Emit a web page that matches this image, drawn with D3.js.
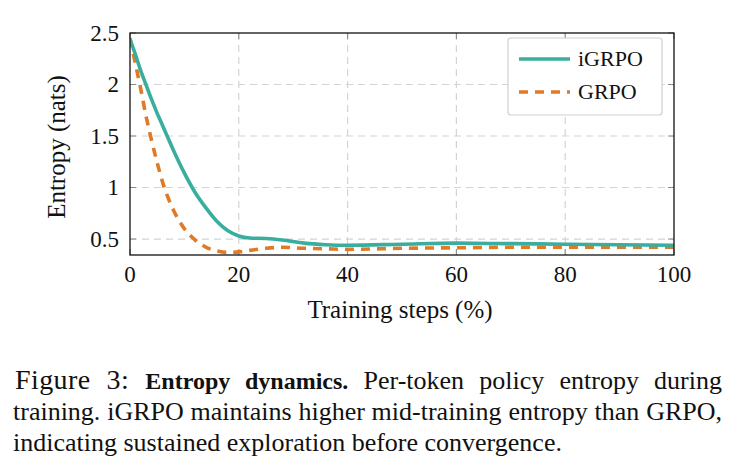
<!DOCTYPE html>
<html>
<head>
<meta charset="utf-8">
<script src="https://cdn.jsdelivr.net/npm/d3@7"></script>
<style>
	body { margin: 0; background: #fff; }
	svg { display: block; }
	text { font-family: "Liberation Serif", "DejaVu Serif", serif; fill: #111; }
</style>
</head>
<body>
<div class="c-svg"></div>
<script>
//DATA
//-------------------------------------------------------------------------
const steps = [0, 1, 2, 3, 4, 5, 6, 8, 10, 12, 14, 16, 18, 20, 22, 25, 28, 32, 36, 40, 50, 60, 70, 80, 90, 100];
const igrpo = [2.44, 2.29, 2.13, 1.99, 1.85, 1.72, 1.6, 1.36, 1.14, 0.95, 0.8, 0.67, 0.58, 0.53, 0.51, 0.505, 0.49, 0.46, 0.445, 0.44, 0.45, 0.46, 0.455, 0.45, 0.445, 0.44];
const grpo = [2.45, 2.2, 1.95, 1.68, 1.45, 1.24, 1.05, 0.78, 0.6, 0.49, 0.42, 0.385, 0.37, 0.375, 0.39, 0.41, 0.42, 0.41, 0.405, 0.4, 0.41, 0.415, 0.42, 0.42, 0.42, 0.42];
const seriesNames = ["iGRPO", "GRPO"];
const xTicks = [0, 20, 40, 60, 80, 100];
const yTicks = [0.5, 1, 1.5, 2, 2.5];
const yTickLabels = ["0.5", "1", "1.5", "2", "2.5"];
const captionLines = [
	"training. iGRPO maintains higher mid-training entropy than GRPO,",
	"indicating sustained exploration before convergence."
];

//opts
const opts = {
	width: 741,
	height: 466,
	plot: { left: 130, right: 674, top: 33, bottom: 255 }
};
const colors = { igrpo: "#3aae9e", grpo: "#e07a27" };

const svg = d3.select(".c-svg")
	.append("svg")
	.attr("width", opts.width)
	.attr("height", opts.height);

svg.append("rect").attr("width", opts.width).attr("height", opts.height).attr("fill", "#fff");

//scales
const x = d3.scaleLinear().domain([0, 100]).range([opts.plot.left, opts.plot.right]);
const y = d3.scaleLinear().domain([0.345, 2.5]).range([opts.plot.bottom, opts.plot.top]);

//GRID
//-------------------------------------------------------------------------
const grid = svg.append("g").attr("class", "grid");
grid.selectAll(".vgrid")
	.data(xTicks.slice(1, -1))
	.join("line")
	.attr("x1", d => x(d)).attr("x2", d => x(d))
	.attr("y1", opts.plot.top).attr("y2", opts.plot.bottom)
	.style("stroke", "#d4d4d4").style("stroke-width", 1.2)
	.style("stroke-dasharray", "7,5");
grid.selectAll(".hgrid")
	.data(yTicks.slice(0, -1))
	.join("line")
	.attr("x1", opts.plot.left).attr("x2", opts.plot.right)
	.attr("y1", d => y(d)).attr("y2", d => y(d))
	.style("stroke", "#d4d4d4").style("stroke-width", 1.2)
	.style("stroke-dasharray", "7,5");

//inner ticks
const ticks = svg.append("g").attr("class", "ticks");
yTicks.forEach(v => {
	ticks.append("line").attr("x1", opts.plot.left).attr("x2", opts.plot.left + 6)
		.attr("y1", y(v)).attr("y2", y(v)).style("stroke", "#888").style("stroke-width", 1);
	ticks.append("line").attr("x1", opts.plot.right - 6).attr("x2", opts.plot.right)
		.attr("y1", y(v)).attr("y2", y(v)).style("stroke", "#888").style("stroke-width", 1);
});
xTicks.forEach(v => {
	ticks.append("line").attr("x1", x(v)).attr("x2", x(v))
		.attr("y1", opts.plot.bottom).attr("y2", opts.plot.bottom - 6).style("stroke", "#888").style("stroke-width", 1);
	ticks.append("line").attr("x1", x(v)).attr("x2", x(v))
		.attr("y1", opts.plot.top).attr("y2", opts.plot.top + 6).style("stroke", "#888").style("stroke-width", 1);
});

//LINES
//-------------------------------------------------------------------------
svg.append("clipPath").attr("id", "clip")
	.append("rect")
	.attr("x", opts.plot.left).attr("y", opts.plot.top - 4)
	.attr("width", opts.plot.right - opts.plot.left).attr("height", opts.plot.bottom - opts.plot.top + 4);

const line = d3.line()
	.x(d => x(d[0]))
	.y(d => y(d[1]))
	.curve(d3.curveMonotoneX);

const lines = svg.append("g").attr("clip-path", "url(#clip)");
lines.append("path")
	.datum(steps.map((s, i) => [s, grpo[i]]))
	.attr("d", line)
	.style("fill", "none")
	.style("stroke", colors.grpo)
	.style("stroke-width", 3.6)
	.style("stroke-dasharray", "9,7");
lines.append("path")
	.datum(steps.map((s, i) => [s, igrpo[i]]))
	.attr("d", line)
	.style("fill", "none")
	.style("stroke", colors.igrpo)
	.style("stroke-width", 3.6);

//frame
svg.append("rect")
	.attr("x", opts.plot.left).attr("y", opts.plot.top)
	.attr("width", opts.plot.right - opts.plot.left)
	.attr("height", opts.plot.bottom - opts.plot.top)
	.style("fill", "none").style("stroke", "#111").style("stroke-width", 1.3);

//AXES LABELS
//-------------------------------------------------------------------------
svg.selectAll(".xlab")
	.data(xTicks)
	.join("text")
	.attr("x", d => x(d)).attr("y", 282)
	.attr("text-anchor", "middle")
	.style("font-size", "23px")
	.text(d => d);

svg.selectAll(".ylab")
	.data(yTicks)
	.join("text")
	.attr("x", 119).attr("y", d => y(d) + 7.5)
	.attr("text-anchor", "end")
	.style("font-size", "23px")
	.text((d, i) => yTickLabels[i]);

svg.append("text")
	.attr("transform", "translate(65 147) rotate(-90)")
	.attr("text-anchor", "middle")
	.style("font-size", "25px")
	.text("Entropy (nats)");

svg.append("text")
	.attr("x", 400).attr("y", 318)
	.attr("text-anchor", "middle")
	.style("font-size", "25px")
	.text("Training steps (%)");

//LEGEND
//-------------------------------------------------------------------------
const legend = svg.append("g");
legend.append("rect")
	.attr("x", 508).attr("y", 38).attr("width", 154).attr("height", 77)
	.attr("rx", 3)
	.style("fill", "#fff").style("stroke", "#cfcfcf").style("stroke-width", 1.2);
[{ name: seriesNames[0], c: colors.igrpo, dash: null, yy: 59 },
 { name: seriesNames[1], c: colors.grpo, dash: "9,7", yy: 92 }].forEach(it => {
	legend.append("line")
		.attr("x1", 519).attr("x2", 570).attr("y1", it.yy).attr("y2", it.yy)
		.style("stroke", it.c).style("stroke-width", 3.6)
		.style("stroke-dasharray", it.dash);
	legend.append("text")
		.attr("x", 578).attr("y", it.yy + 7)
		.style("font-size", "22px")
		.text(it.name);
});

//CAPTION
//-------------------------------------------------------------------------
//justify a text line by spreading word spacing
function justify(t, width){
	const len = t.node().getComputedTextLength();
	const spaces = (t.text().match(/ /g) || []).length;
	if (spaces > 0 && len < width) t.style("word-spacing", ((width - len) / spaces) + "px");
}

const cap = svg.append("text")
	.attr("x", 15).attr("y", 389)
	.style("font-size", "26px");
cap.append("tspan").style("font-size", "28px").style("letter-spacing", "0.4px").text("Figure 3: ");
cap.append("tspan").style("font-weight", "bold").style("font-size", "24px").text("Entropy dynamics.");
cap.append("tspan").text(" Per-token policy entropy during");
justify(cap, 707);

const cap2 = svg.append("text")
	.attr("x", 13).attr("y", 420)
	.style("font-size", "26px")
	.text(captionLines[0]);
justify(cap2, 709);

svg.append("text")
	.attr("x", 13).attr("y", 451)
	.style("font-size", "26px")
	.text(captionLines[1]);
</script>
</body>
</html>
